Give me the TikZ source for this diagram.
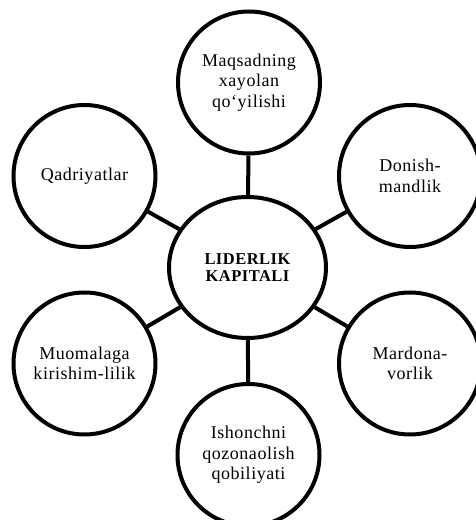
\documentclass[tikz,border=0pt]{standalone}
\usepackage{fontspec}
\setmainfont[LetterSpace=3]{Liberation Serif}
\usetikzlibrary{shapes.geometric}
\tikzset{
  bubble/.style={circle, draw=black, line width=4pt, minimum size=142pt, inner sep=0pt,
    align=center, font=\fontsize{18}{20.5}\selectfont},
  hub/.style={ellipse, draw=black, line width=4pt, minimum width=157pt, minimum height=141pt,
    inner sep=0pt, align=center, font=\fontsize{16.5}{17.5}\selectfont\bfseries},
  link/.style={draw=black, line width=4pt}
}
\begin{document}
\begin{tikzpicture}[x=1pt,y=1pt]
\useasboundingbox (0,0) rectangle (476,520);
\clip (0,0) rectangle (476,520);
\fill[white] (0,0) rectangle (476,520);
\node[hub] (C) at (247.5,252.5) {LIDERLIK\\KAPITALI};
\node[bubble] (T) at (249,437.5) {Maqsadning\\xayolan\\qo‘yilishi};
\node[bubble] (TL) at (84.5,344) {Qadriyatlar};
\node[bubble] (TR) at (410,344) {Donish-\\mandlik};
\node[bubble] (BL) at (84.5,156.5) {Muomalaga\\kirishim-lilik};
\node[bubble] (BR) at (410,156.5) {Mardona-\\vorlik};
\node[bubble] (B) at (248.5,65) {Ishonchni\\qozonaolish\\qobiliyati};
\draw[link] (C) -- (T);
\draw[link] (C) -- (TL);
\draw[link] (C) -- (TR);
\draw[link] (C) -- (BL);
\draw[link] (C) -- (BR);
\draw[link] (C) -- (B);
\end{tikzpicture}
\end{document}
